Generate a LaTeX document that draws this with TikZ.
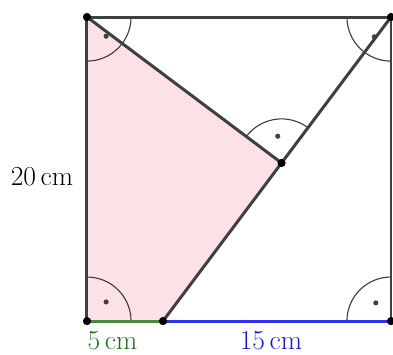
\documentclass[tikz,border=0pt]{standalone}
\usetikzlibrary{calc}
\definecolor{edgegray}{RGB}{64,64,64}
\definecolor{fillpink}{RGB}{252,225,230}
\definecolor{segGreen}{RGB}{70,140,60}
\definecolor{txtGreen}{RGB}{30,110,30}
\definecolor{segBlue}{RGB}{50,50,245}
\definecolor{txtBlue}{RGB}{25,25,200}
\tikzset{
  thickline/.style={draw=edgegray, line width=3pt, line cap=round},
  anglearc/.style={draw=edgegray!90!black, line width=1.1pt},
  adot/.style={fill=edgegray, draw=none},
  cornerdot/.style={fill=black, draw=none},
  lbl/.style={font=\fontsize{27.5}{32}\selectfont, anchor=base, inner sep=0pt},
}
\begin{document}
\begin{tikzpicture}[x=15.2pt,y=15.2pt]
\useasboundingbox (-5.72,-2.17) rectangle (20.13,21.12);
\coordinate (A) at (0,0);
\coordinate (B) at (20,0);
\coordinate (C) at (20,20);
\coordinate (D) at (0,20);
\coordinate (E) at (5,0);
\coordinate (F) at (12.8,10.4);
% pink region
\fill[fillpink] (A) -- (E) -- (F) -- (D) -- cycle;
% right angle markers
\draw[anglearc] ($(D)+(2.9,0)$) arc[start angle=0, end angle=-90, radius=2.9];
\fill[adot] ($(D)+(1.26,-1.26)$) circle (0.17);
\draw[anglearc] ($(C)+(-2.9,0)$) arc[start angle=180, end angle=270, radius=2.9];
\fill[adot] ($(C)+(-1.1,-1.3)$) circle (0.17);
\draw[anglearc] ($(A)+(2.9,0)$) arc[start angle=0, end angle=90, radius=2.9];
\fill[adot] ($(A)+(1.26,1.26)$) circle (0.17);
\draw[anglearc] ($(B)+(-2.9,0)$) arc[start angle=180, end angle=90, radius=2.9];
\fill[adot] ($(B)+(-1.0,1.2)$) circle (0.17);
\draw[anglearc] ($(F)+(53.13:2.9)$) arc[start angle=53.13, end angle=143.13, radius=2.9];
\fill[adot] ($(F)+(98.13:1.78)$) circle (0.17);
% edges
\draw[thickline] (D) -- (C);
\draw[thickline] (D) -- (A);
\draw[draw=edgegray, line width=2pt] (C) -- (B);
\draw[thickline] (E) -- (C);
\draw[thickline] (D) -- (F);
\draw[line width=3pt, draw=segGreen] (A) -- (E);
\draw[line width=3pt, draw=segBlue] (E) -- (B);
% vertices
\foreach \p in {A,B,C,D,E,F} \fill[cornerdot] (\p) circle (0.27);
% labels
\node[lbl] (l20) at (-2.96,8.95) {20\,cm};
\node[lbl, text=txtGreen] (l5) at (1.68,-1.88) {5\,cm};
\node[lbl, text=txtBlue] (l15) at (12.1,-1.88) {15\,cm};
\end{tikzpicture}
\end{document}
